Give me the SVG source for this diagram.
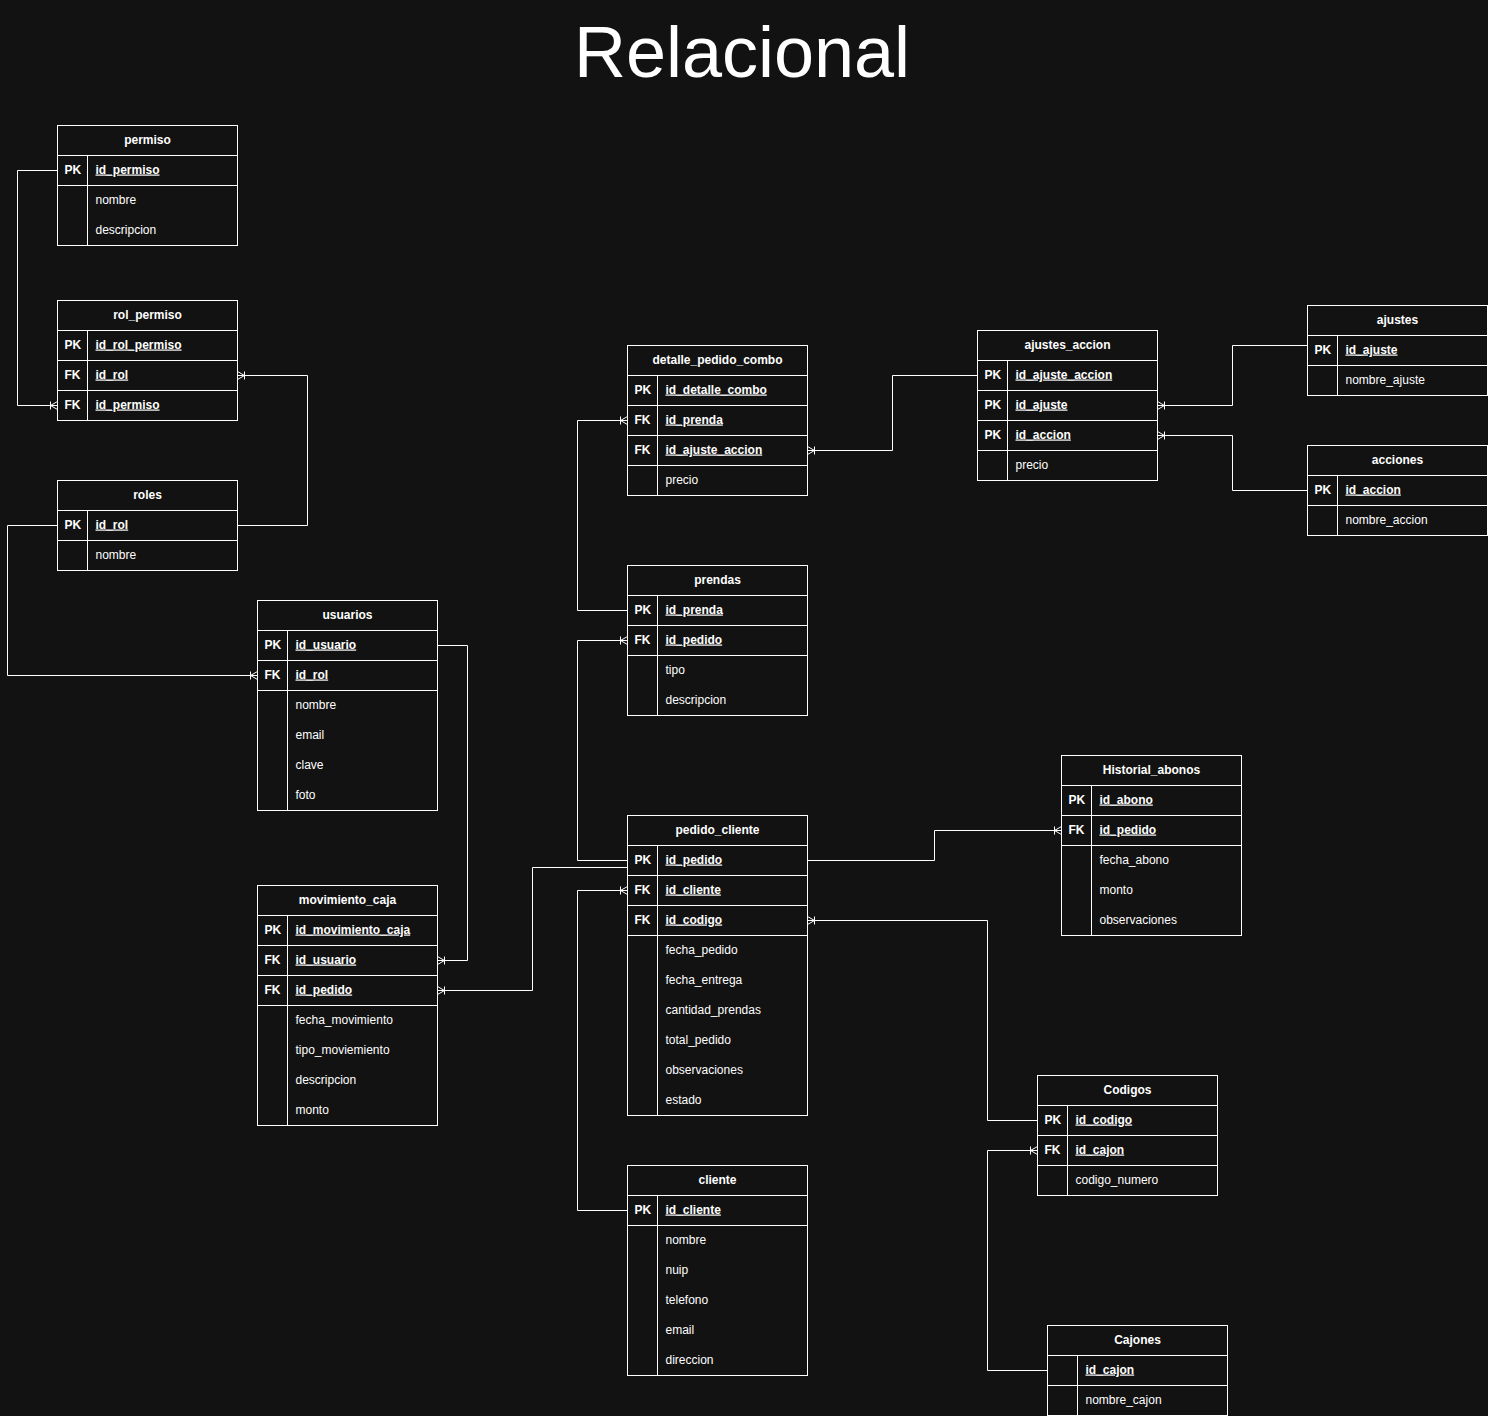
<svg xmlns="http://www.w3.org/2000/svg" width="1488" height="1416" viewBox="0 0 1488 1416">
<style>
.bg{fill:#121212}
.tb{fill:#121212;stroke:#ffffff;stroke-width:1}
.ln{stroke:#ffffff;stroke-width:1;fill:none}
.t{font-family:"Liberation Sans",Arial,Helvetica,sans-serif;font-size:12px;fill:#ffffff}
.h{font-weight:bold;text-anchor:middle}
.k{font-weight:bold}
.u{font-weight:bold;text-decoration:underline}
.c{stroke:#ffffff;stroke-width:1;fill:none}
.title{font-family:"Liberation Sans",Arial,Helvetica,sans-serif;font-size:72px;fill:#ffffff;text-anchor:middle}
</style>
<defs>
<marker id="many" markerUnits="userSpaceOnUse" viewBox="-10 -6 12 12" refX="0" refY="0" markerWidth="12" markerHeight="12" orient="auto" overflow="visible">
<path d="M-7,0 L0,-4 M-7,0 L0,4 M-7,-4 V4" stroke="#ffffff" stroke-width="1" fill="none"/>
</marker>
</defs>
<rect class="bg" x="0" y="0" width="1488" height="1416"/>
<text class="title" x="742" y="77">Relacional</text>

<g id="connectors" transform="translate(0.5,0.5)">
<path class="c" d="M57,170 H17 V405 H57" marker-end="url(#many)"/>
<path class="c" d="M237,525 H307 V375 H237" marker-end="url(#many)"/>
<path class="c" d="M57,525 H7 V675 H257" marker-end="url(#many)"/>
<path class="c" d="M437,645 H467 V960 H437" marker-end="url(#many)"/>
<path class="c" d="M627,867 H532 V990 H437" marker-end="url(#many)"/>
<path class="c" d="M627,860 H577 V640 H627" marker-end="url(#many)"/>
<path class="c" d="M627,610 H577 V420 H627" marker-end="url(#many)"/>
<path class="c" d="M977,375 H892 V450 H807" marker-end="url(#many)"/>
<path class="c" d="M1307,345 H1232 V405 H1157" marker-end="url(#many)"/>
<path class="c" d="M1307,490 H1232 V435 H1157" marker-end="url(#many)"/>
<path class="c" d="M627,1210 H577 V890 H627" marker-end="url(#many)"/>
<path class="c" d="M807,860 H934 V830 H1061" marker-end="url(#many)"/>
<path class="c" d="M1037,1120 H987 V920 H807" marker-end="url(#many)"/>
<path class="c" d="M1047,1370 H987 V1150 H1037" marker-end="url(#many)"/>
</g>

<g id="permiso" transform="translate(57.5,125.5)">
<rect class="tb" x="0" y="0" width="180" height="120"/>
<path class="ln" d="M0,30 H180 M0,60 H180 M30,30 V120"/>
<text class="t h" x="90" y="18">permiso</text>
<text class="t k" x="7" y="48">PK</text><text class="t u" x="38" y="48">id_permiso</text>
<text class="t" x="38" y="78">nombre</text>
<text class="t" x="38" y="108">descripcion</text>
</g>

<g id="rol_permiso" transform="translate(57.5,300.5)">
<rect class="tb" x="0" y="0" width="180" height="120"/>
<path class="ln" d="M0,30 H180 M0,60 H180 M0,90 H180 M30,30 V120"/>
<text class="t h" x="90" y="18">rol_permiso</text>
<text class="t k" x="7" y="48">PK</text><text class="t u" x="38" y="48">id_rol_permiso</text>
<text class="t k" x="7" y="78">FK</text><text class="t u" x="38" y="78">id_rol</text>
<text class="t k" x="7" y="108">FK</text><text class="t u" x="38" y="108">id_permiso</text>
</g>

<g id="roles" transform="translate(57.5,480.5)">
<rect class="tb" x="0" y="0" width="180" height="90"/>
<path class="ln" d="M0,30 H180 M0,60 H180 M30,30 V90"/>
<text class="t h" x="90" y="18">roles</text>
<text class="t k" x="7" y="48">PK</text><text class="t u" x="38" y="48">id_rol</text>
<text class="t" x="38" y="78">nombre</text>
</g>

<g id="usuarios" transform="translate(257.5,600.5)">
<rect class="tb" x="0" y="0" width="180" height="210"/>
<path class="ln" d="M0,30 H180 M0,60 H180 M0,90 H180 M30,30 V210"/>
<text class="t h" x="90" y="18">usuarios</text>
<text class="t k" x="7" y="48">PK</text><text class="t u" x="38" y="48">id_usuario</text>
<text class="t k" x="7" y="78">FK</text><text class="t u" x="38" y="78">id_rol</text>
<text class="t" x="38" y="108">nombre</text>
<text class="t" x="38" y="138">email</text>
<text class="t" x="38" y="168">clave</text>
<text class="t" x="38" y="198">foto</text>
</g>

<g id="movimiento_caja" transform="translate(257.5,885.5)">
<rect class="tb" x="0" y="0" width="180" height="240"/>
<path class="ln" d="M0,30 H180 M0,60 H180 M0,90 H180 M0,120 H180 M30,30 V240"/>
<text class="t h" x="90" y="18">movimiento_caja</text>
<text class="t k" x="7" y="48">PK</text><text class="t u" x="38" y="48">id_movimiento_caja</text>
<text class="t k" x="7" y="78">FK</text><text class="t u" x="38" y="78">id_usuario</text>
<text class="t k" x="7" y="108">FK</text><text class="t u" x="38" y="108">id_pedido</text>
<text class="t" x="38" y="138">fecha_movimiento</text>
<text class="t" x="38" y="168">tipo_moviemiento</text>
<text class="t" x="38" y="198">descripcion</text>
<text class="t" x="38" y="228">monto</text>
</g>

<g id="detalle_pedido_combo" transform="translate(627.5,345.5)">
<rect class="tb" x="0" y="0" width="180" height="150"/>
<path class="ln" d="M0,30 H180 M0,60 H180 M0,90 H180 M0,120 H180 M30,30 V150"/>
<text class="t h" x="90" y="18">detalle_pedido_combo</text>
<text class="t k" x="7" y="48">PK</text><text class="t u" x="38" y="48">id_detalle_combo</text>
<text class="t k" x="7" y="78">FK</text><text class="t u" x="38" y="78">id_prenda</text>
<text class="t k" x="7" y="108">FK</text><text class="t u" x="38" y="108">id_ajuste_accion</text>
<text class="t" x="38" y="138">precio</text>
</g>

<g id="prendas" transform="translate(627.5,565.5)">
<rect class="tb" x="0" y="0" width="180" height="150"/>
<path class="ln" d="M0,30 H180 M0,60 H180 M0,90 H180 M30,30 V150"/>
<text class="t h" x="90" y="18">prendas</text>
<text class="t k" x="7" y="48">PK</text><text class="t u" x="38" y="48">id_prenda</text>
<text class="t k" x="7" y="78">FK</text><text class="t u" x="38" y="78">id_pedido</text>
<text class="t" x="38" y="108">tipo</text>
<text class="t" x="38" y="138">descripcion</text>
</g>

<g id="pedido_cliente" transform="translate(627.5,815.5)">
<rect class="tb" x="0" y="0" width="180" height="300"/>
<path class="ln" d="M0,30 H180 M0,60 H180 M0,90 H180 M0,120 H180 M30,30 V300"/>
<text class="t h" x="90" y="18">pedido_cliente</text>
<text class="t k" x="7" y="48">PK</text><text class="t u" x="38" y="48">id_pedido</text>
<text class="t k" x="7" y="78">FK</text><text class="t u" x="38" y="78">id_cliente</text>
<text class="t k" x="7" y="108">FK</text><text class="t u" x="38" y="108">id_codigo</text>
<text class="t" x="38" y="138">fecha_pedido</text>
<text class="t" x="38" y="168">fecha_entrega</text>
<text class="t" x="38" y="198">cantidad_prendas</text>
<text class="t" x="38" y="228">total_pedido</text>
<text class="t" x="38" y="258">observaciones</text>
<text class="t" x="38" y="288">estado</text>
</g>

<g id="cliente" transform="translate(627.5,1165.5)">
<rect class="tb" x="0" y="0" width="180" height="210"/>
<path class="ln" d="M0,30 H180 M0,60 H180 M30,30 V210"/>
<text class="t h" x="90" y="18">cliente</text>
<text class="t k" x="7" y="48">PK</text><text class="t u" x="38" y="48">id_cliente</text>
<text class="t" x="38" y="78">nombre</text>
<text class="t" x="38" y="108">nuip</text>
<text class="t" x="38" y="138">telefono</text>
<text class="t" x="38" y="168">email</text>
<text class="t" x="38" y="198">direccion</text>
</g>

<g id="ajustes_accion" transform="translate(977.5,330.5)">
<rect class="tb" x="0" y="0" width="180" height="150"/>
<path class="ln" d="M0,30 H180 M0,60 H180 M0,90 H180 M0,120 H180 M30,30 V150"/>
<text class="t h" x="90" y="18">ajustes_accion</text>
<text class="t k" x="7" y="48">PK</text><text class="t u" x="38" y="48">id_ajuste_accion</text>
<text class="t k" x="7" y="78">PK</text><text class="t u" x="38" y="78">id_ajuste</text>
<text class="t k" x="7" y="108">PK</text><text class="t u" x="38" y="108">id_accion</text>
<text class="t" x="38" y="138">precio</text>
</g>

<g id="ajustes" transform="translate(1307.5,305.5)">
<rect class="tb" x="0" y="0" width="180" height="90"/>
<path class="ln" d="M0,30 H180 M0,60 H180 M30,30 V90"/>
<text class="t h" x="90" y="18">ajustes</text>
<text class="t k" x="7" y="48">PK</text><text class="t u" x="38" y="48">id_ajuste</text>
<text class="t" x="38" y="78">nombre_ajuste</text>
</g>

<g id="acciones" transform="translate(1307.5,445.5)">
<rect class="tb" x="0" y="0" width="180" height="90"/>
<path class="ln" d="M0,30 H180 M0,60 H180 M30,30 V90"/>
<text class="t h" x="90" y="18">acciones</text>
<text class="t k" x="7" y="48">PK</text><text class="t u" x="38" y="48">id_accion</text>
<text class="t" x="38" y="78">nombre_accion</text>
</g>

<g id="Historial_abonos" transform="translate(1061.5,755.5)">
<rect class="tb" x="0" y="0" width="180" height="180"/>
<path class="ln" d="M0,30 H180 M0,60 H180 M0,90 H180 M30,30 V180"/>
<text class="t h" x="90" y="18">Historial_abonos</text>
<text class="t k" x="7" y="48">PK</text><text class="t u" x="38" y="48">id_abono</text>
<text class="t k" x="7" y="78">FK</text><text class="t u" x="38" y="78">id_pedido</text>
<text class="t" x="38" y="108">fecha_abono</text>
<text class="t" x="38" y="138">monto</text>
<text class="t" x="38" y="168">observaciones</text>
</g>

<g id="Codigos" transform="translate(1037.5,1075.5)">
<rect class="tb" x="0" y="0" width="180" height="120"/>
<path class="ln" d="M0,30 H180 M0,60 H180 M0,90 H180 M30,30 V120"/>
<text class="t h" x="90" y="18">Codigos</text>
<text class="t k" x="7" y="48">PK</text><text class="t u" x="38" y="48">id_codigo</text>
<text class="t k" x="7" y="78">FK</text><text class="t u" x="38" y="78">id_cajon</text>
<text class="t" x="38" y="108">codigo_numero</text>
</g>

<g id="Cajones" transform="translate(1047.5,1325.5)">
<rect class="tb" x="0" y="0" width="180" height="90"/>
<path class="ln" d="M0,30 H180 M0,60 H180 M30,30 V90"/>
<text class="t h" x="90" y="18">Cajones</text>
<text class="t u" x="38" y="48">id_cajon</text>
<text class="t" x="38" y="78">nombre_cajon</text>
</g>
</svg>
